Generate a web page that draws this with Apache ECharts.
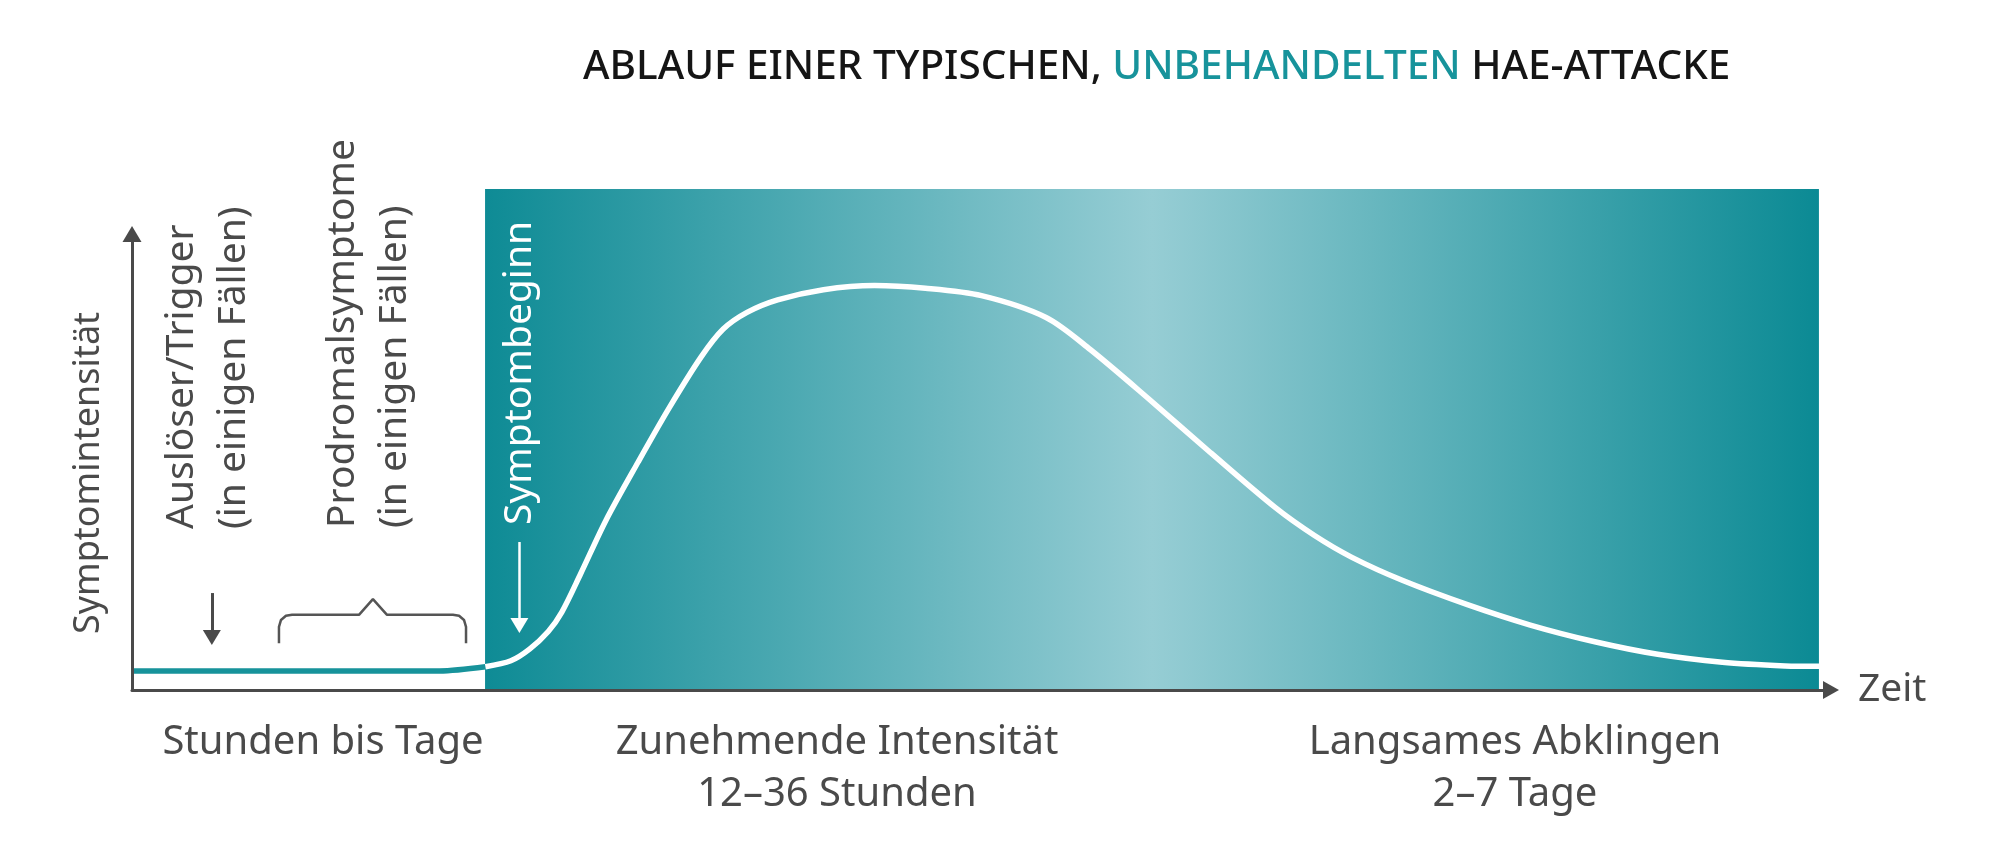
<!DOCTYPE html>
<html>
<head>
<meta charset="utf-8">
<title>Ablauf einer HAE-Attacke</title>
<script src="https://cdn.jsdelivr.net/npm/echarts@6/dist/echarts.min.js"></script>
<style>
  html, body { margin: 0; padding: 0; background: #ffffff; }
  #main { width: 2000px; height: 866px; }
</style>
</head>
<body>
<div id="main"></div>
<script>
// Verlauf der Symptomintensitaet (x: Zeit, 0-100 / y: Intensitaet)
var curveX = [0, 18.1, 20.8, 22.3, 23.4, 24.5, 25.3, 26.4, 27.9, 29.8, 31.6, 33.5, 34.8, 36.2, 38.0, 40.7,
              43.7, 46.7, 50.0, 53.8, 56.4, 59.8, 63.5, 67.3, 69.6, 71.8, 74.8, 78.6, 82.3, 86.1, 89.8,
              93.6, 97.3, 99.3];
var curveY = [4.1, 4.1, 5.0, 6.3, 8.8, 12.6, 16.8, 25.0, 36.6, 49.2, 60.7, 71.8, 77.8, 81.4, 84.1, 86.3,
              87.2, 86.6, 85.0, 80.3, 73.4, 62.9, 51.1, 39.3, 33.3, 28.6, 23.6, 18.4, 14.0, 10.4, 7.7,
              6.0, 5.2, 5.1];

// geschweifte Klammer ueber der Prodromalphase
var bracketX = [8.65, 8.65, 8.77, 9.06, 9.42, 13.36, 14.18, 15.01, 18.89, 19.25, 19.54, 19.66, 19.66];
var bracketY = [10.1, 13.6, 15.1, 16.0, 16.2, 16.2, 19.6, 16.2, 16.2, 16.0, 15.1, 13.6, 10.1];

// Zeitraum der Attacke (Hintergrundflaeche)
var attackStart = 20.78;
var attackEnd = 99.29;
var attackTop = 108;

// Pfeile: [x, y von, y bis]
var yAxisArrow = [0, 0, 98.3];
var triggerArrow = [4.7, 20.9, 11.3];
var onsetArrow = [22.8, 31.9, 13.9];

var titleParts = ['ABLAUF EINER TYPISCHEN, ', 'UNBEHANDELTEN', ' HAE-ATTACKE'];
var phaseLabels = ['Stunden bis Tage', 'Zunehmende Intensität\n12–36 Stunden', 'Langsames Abklingen\n2–7 Tage'];
var sideLabels = ['Auslöser/Trigger\n(in einigen Fällen)', 'Prodromalsymptome\n(in einigen Fällen)'];
var yName = 'Symptomintensität';
var xName = 'Zeit';
var onsetLabel = 'Symptombeginn';

var TEAL = '#17939b';
var GREY = '#4a4a4a';
var FONT = '"Noto Sans", sans-serif';

function pairs(xs, ys, from, to){
    var out = [];
    for (var i = 0; i < xs.length; i++) {
        if (xs[i] >= from && xs[i] <= to) {
            out.push([xs[i], ys[i]]);
        }
    }
    return out;
}

function arrowLine(a, size){
    return [{coord: [a[0], a[1]]}, {coord: [a[0], a[2]], symbol: 'triangle', symbolSize: size}];
}

function textEl(text, x, y, opt){
    opt = opt || {};
    return {
        type: 'text',
        x: x,
        y: y,
        rotation: opt.rotate ? Math.PI / 2 : 0,
        silent: true,
        z: 10,
        style: {
            text: text,
            fill: opt.color || GREY,
            fontSize: opt.size || 40,
            fontFamily: FONT,
            lineHeight: opt.lineHeight || 52,
            align: opt.align || 'left',
            verticalAlign: opt.valign || 'top',
            textAlign: opt.align || 'left',
            textVerticalAlign: opt.valign || 'top'
        }
    };
}

// Kurve: vor der Attacke teal, waehrend der Attacke weiss
var curveBefore = pairs(curveX, curveY, 0, 20.8);
var curveDuring = pairs(curveX, curveY, 20.8, 100);

var myChart = echarts.init(document.getElementById('main'));

var option = {
    animation: false,
    backgroundColor: '#ffffff',
    title: {
        left: 578,
        top: 42,
        text: '{a|' + titleParts[0] + '}{b|' + titleParts[1] + '}{a|' + titleParts[2] + '}',
        textStyle: {
            rich: {
                a: {fontSize: 40.5, fontFamily: FONT, fontWeight: 500, color: '#151515'},
                b: {fontSize: 40.5, fontFamily: FONT, fontWeight: 500, color: TEAL}
            }
        }
    },
    grid: {left: 132, right: 169, top: 189, bottom: 176},
    xAxis: {
        type: 'value',
        min: 0,
        max: 100,
        z: 3,
        name: xName,
        nameLocation: 'end',
        nameGap: 27,
        nameTextStyle: {fontSize: 39, fontFamily: FONT, color: GREY, verticalAlign: 'middle'},
        axisLine: {
            show: true,
            symbol: ['none', 'triangle'],
            symbolSize: [18, 16],
            lineStyle: {color: GREY, width: 3}
        },
        axisTick: {show: false},
        axisLabel: {show: false},
        splitLine: {show: false}
    },
    yAxis: {
        type: 'value',
        min: 0,
        max: attackTop,
        axisLine: {show: false},
        axisTick: {show: false},
        axisLabel: {show: false},
        splitLine: {show: false}
    },
    series: [{
        name: 'Intensität vorher',
        type: 'line',
        z: 4,
        data: curveBefore,
        smooth: 0.3,
        showSymbol: false,
        symbol: 'none',
        silent: true,
        lineStyle: {width: 5.5, color: TEAL}
    }, {
        name: 'Intensität',
        type: 'line',
        z: 4,
        data: curveDuring,
        smooth: 0.3,
        showSymbol: false,
        symbol: 'none',
        silent: true,
        lineStyle: {width: 5.5, color: '#ffffff'}
    }, {
        name: 'Klammer',
        type: 'line',
        z: 2,
        data: pairs(bracketX, bracketY, 0, 100),
        showSymbol: false,
        symbol: 'none',
        silent: true,
        lineStyle: {color: '#555555', width: 2.5},
        markArea: {
            silent: true,
            itemStyle: {
                color: new echarts.graphic.LinearGradient(0, 0, 1, 0, [
                    {offset: 0, color: '#0e8b95'},
                    {offset: 0.5, color: '#96cdd4'},
                    {offset: 1, color: '#0b8a94'}
                ])
            },
            data: [[{coord: [attackStart, 0]}, {coord: [attackEnd, attackTop]}]]
        },
        markLine: {
            silent: true,
            symbol: ['none', 'triangle'],
            label: {show: false},
            lineStyle: {color: GREY, width: 3, type: 'solid'},
            data: [
                arrowLine(yAxisArrow, [19, 16]),
                arrowLine(triggerArrow, [18, 15])
            ]
        }
    }, {
        name: 'Symptombeginn',
        type: 'line',
        data: [[onsetArrow[0], onsetArrow[1]]],
        showSymbol: false,
        symbol: 'none',
        silent: true,
        lineStyle: {opacity: 0},
        markLine: {
            silent: true,
            symbol: ['none', 'triangle'],
            label: {show: false},
            lineStyle: {color: '#ffffff', width: 2.5, type: 'solid'},
            data: [arrowLine(onsetArrow, [18, 15])]
        }
    }],
    graphic: [
        textEl(yName, 89, 473, {rotate: true, align: 'center', valign: 'middle', size: 36}),
        textEl(sideLabels[0], 156, 529, {rotate: true, size: 39}),
        textEl(sideLabels[1], 317, 528, {rotate: true, size: 39}),
        textEl(onsetLabel, 520, 525, {rotate: true, valign: 'middle', color: '#ffffff', size: 39}),
        textEl(phaseLabels[0], 323, 717, {align: 'center'}),
        textEl(phaseLabels[1], 837, 717, {align: 'center'}),
        textEl(phaseLabels[2], 1515, 717, {align: 'center'})
    ]
};

myChart.setOption(option);
</script>
</body>
</html>
